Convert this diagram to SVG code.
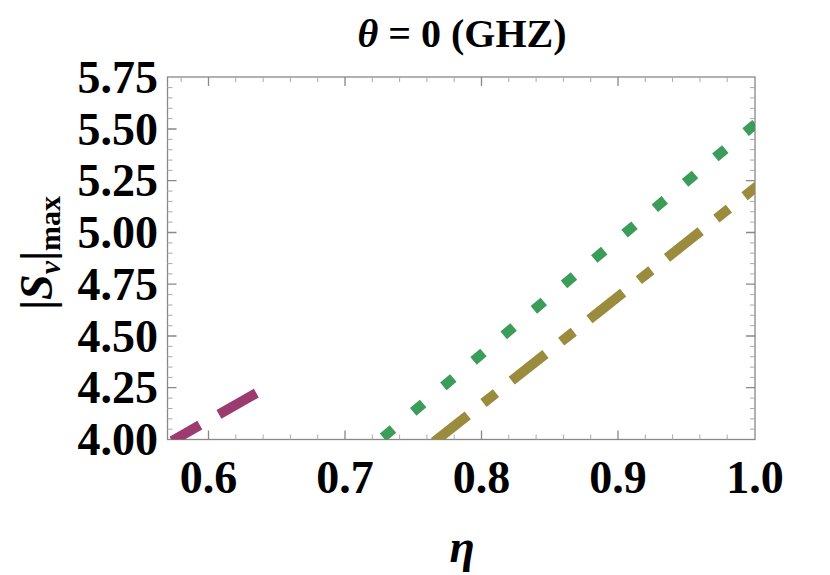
<svg xmlns="http://www.w3.org/2000/svg" width="830" height="575" viewBox="0 0 830 575">
<style>
.t{font-family:"Liberation Serif",serif;font-weight:bold;fill:#000}
.maj{stroke:#888;stroke-width:1.3}
.min{stroke:#aaa;stroke-width:1}
.c{fill:none;stroke-width:10;stroke-linecap:butt}
</style>
<defs><clipPath id="pc"><rect x="167.5" y="77" width="587.5" height="362.5"/></clipPath></defs>
<rect width="830" height="575" fill="#fff"/>
<text class="t" x="462" y="47" font-size="40" text-anchor="middle"><tspan font-style="italic">θ</tspan> = 0 (GHZ)</text>
<g id="frame">
<rect x="167.5" y="77" width="587.5" height="362.5" fill="none" stroke="#888" stroke-width="1.3"/>
<path class="maj" d="M208.5,439.5v-9M345,439.5v-9M481.5,439.5v-9M618,439.5v-9M208.5,77v9M345,77v9M481.5,77v9M618,77v9M167.5,387.7h9M167.5,336h9M167.5,284.2h9M167.5,232.5h9M167.5,180.7h9M167.5,129h9M755,387.7h-9M755,336h-9M755,284.2h-9M755,232.5h-9M755,180.7h-9M755,129h-9"/>
<path class="min" d="M181.2,439.5v-5M235.8,439.5v-5M263.1,439.5v-5M290.4,439.5v-5M317.7,439.5v-5M372.3,439.5v-5M399.6,439.5v-5M426.9,439.5v-5M454.2,439.5v-5M508.8,439.5v-5M536.1,439.5v-5M563.4,439.5v-5M590.7,439.5v-5M645.3,439.5v-5M672.6,439.5v-5M699.9,439.5v-5M727.2,439.5v-5M181.2,77v5M235.8,77v5M263.1,77v5M290.4,77v5M317.7,77v5M372.3,77v5M399.6,77v5M426.9,77v5M454.2,77v5M508.8,77v5M536.1,77v5M563.4,77v5M590.7,77v5M645.3,77v5M672.6,77v5M699.9,77v5M727.2,77v5"/>
<path class="min" d="M167.5,429.2h5M167.5,418.8h5M167.5,408.5h5M167.5,398.1h5M167.5,377.4h5M167.5,367.1h5M167.5,356.7h5M167.5,346.4h5M167.5,325.7h5M167.5,315.3h5M167.5,305h5M167.5,294.6h5M167.5,273.9h5M167.5,263.6h5M167.5,253.2h5M167.5,242.9h5M167.5,222.1h5M167.5,211.8h5M167.5,201.4h5M167.5,191.1h5M167.5,170.4h5M167.5,160.1h5M167.5,149.7h5M167.5,139.4h5M167.5,118.6h5M167.5,108.3h5M167.5,97.9h5M167.5,87.6h5M755,429.2h-5M755,418.8h-5M755,408.5h-5M755,398.1h-5M755,377.4h-5M755,367.1h-5M755,356.7h-5M755,346.4h-5M755,325.7h-5M755,315.3h-5M755,305h-5M755,294.6h-5M755,273.9h-5M755,263.6h-5M755,253.2h-5M755,242.9h-5M755,222.1h-5M755,211.8h-5M755,201.4h-5M755,191.1h-5M755,170.4h-5M755,160.1h-5M755,149.7h-5M755,139.4h-5M755,118.6h-5M755,108.3h-5M755,97.9h-5M755,87.6h-5"/>
</g>
<g id="yticks" class="t" font-size="46" text-anchor="end">
<text x="158" y="455">4.00</text><text x="158" y="403">4.25</text><text x="158" y="352">4.50</text><text x="158" y="300">4.75</text><text x="158" y="248">5.00</text><text x="158" y="196">5.25</text><text x="158" y="145">5.50</text><text x="158" y="93">5.75</text>
</g>
<g id="xticks" class="t" font-size="46" text-anchor="middle">
<text x="208.5" y="493">0.6</text><text x="345" y="493">0.7</text><text x="481.5" y="493">0.8</text><text x="618" y="493">0.9</text><text x="755" y="493">1.0</text>
</g>
<text class="t" x="462" y="562" font-size="46" font-style="italic" text-anchor="middle">η</text>
<text class="t" font-size="46" transform="translate(52,253) rotate(-90)" text-anchor="middle">|<tspan font-style="italic">S</tspan><tspan font-style="italic" font-size="30" dy="8">v</tspan><tspan dy="-8">|</tspan><tspan font-size="30" dy="8">max</tspan></text>
<g id="curves" clip-path="url(#pc)">
<path class="c" stroke="#9b3b70" d="M172,441 L260,391" stroke-dasharray="43 22" stroke-dashoffset="11"/>
<path class="c" stroke="#3c9c5a" d="M380,440 L568,281 L760,120" stroke-dasharray="13 26.5" stroke-dashoffset="-4"/>
<path class="c" stroke="#9a8b3d" d="M434,442 L600,311 L760,184" stroke-dasharray="43 20 16 20"/>
</g>
</svg>
